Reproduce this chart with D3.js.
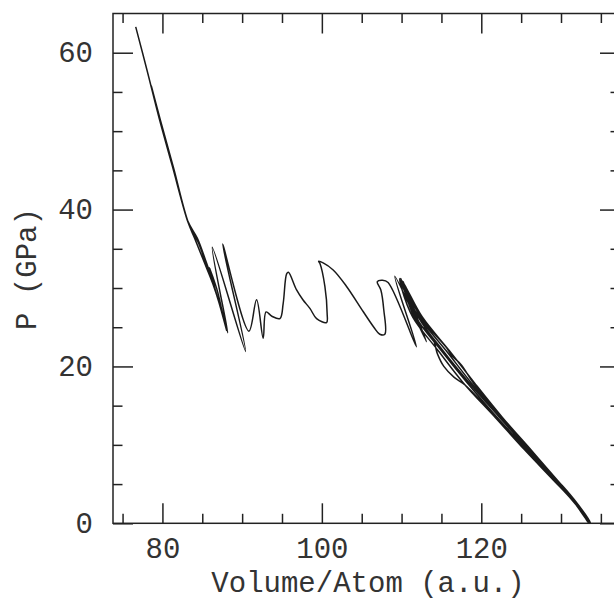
<!DOCTYPE html>
<html>
<head>
<meta charset="utf-8">
<script src="https://d3js.org/d3.v7.min.js"></script>
<style>
  body { margin: 0; background: #fff; }
  text { font-family: "Liberation Mono", "DejaVu Sans Mono", monospace; fill: #333; }
</style>
</head>
<body>
<div id="chart"></div>
<script>
// tick values
const xMajor = [80, 100, 120];
const xMinor = [75, 85, 90, 95, 105, 110, 115, 125, 130, 135];
const yMajor = [0, 20, 40, 60];
const yMinor = [5, 10, 15, 25, 30, 35, 45, 50, 55];

// trajectory pieces, [volume (a.u.), pressure (GPa)]
const upperBranch = [
  [76.65, 63.3], [78.06, 57.8], [79.6, 51.6], [81.2, 45.7], [83.2, 38.4],
  [84.1, 36.2], [85.2, 33.4], [86.3, 30.6], [87.2, 27.8], [88.05, 24.6]
];
const upperReturn = [
  [87.3, 27.4], [86.5, 30.2], [85.5, 33.0], [84.5, 35.8], [83.3, 38.2],
  [81.4, 45.3], [79.8, 51.2], [78.6, 55.8]
];
const upperSecond = [
  [79.9, 50.8], [81.5, 44.8], [83.2, 38.5], [84.4, 36.3], [85.6, 33.0],
  [86.6, 30.3], [85.9, 32.6], [86.9, 29.6], [87.5, 27.0], [88.2, 24.3]
];
const transition = [
  [86.25, 35.2], [90.44, 21.9], [87.55, 35.6], [90.85, 24.5], [91.81, 28.5],
  [92.64, 23.6], [93.0, 26.95], [93.73, 26.4], [94.74, 26.1], [95.15, 28.05],
  [95.58, 31.8], [95.8, 32.0], [96.83, 29.75], [97.62, 28.5], [98.5, 27.4],
  [99.34, 26.1], [100.59, 25.6], [100.66, 26.8], [100.38, 30.2], [99.75, 33.15],
  [99.6, 33.4], [100.16, 33.2], [101.42, 32.3], [103.1, 30.2], [105.18, 27.0],
  [106.52, 25.0], [107.27, 24.1], [107.9, 24.1], [107.77, 27.2], [107.4, 29.75],
  [106.95, 30.8], [107.6, 31.0], [108.31, 30.7], [111.87, 22.5], [109.15, 31.5],
  [113.13, 23.15], [109.78, 31.2]
];
// the dense band below ~110 a.u.
const strand1 = [
  [110.0, 30.0], [111.4, 26.3], [114.6, 22.0], [117.75, 17.9], [121.75, 13.5],
  [125.4, 9.4], [129.05, 5.5], [131.35, 3.0], [133.6, 0]
];
const strand2 = [
  [133.5, 0], [131.65, 3.0], [129.55, 5.5], [126.2, 9.4], [122.65, 13.5],
  [119.15, 17.9], [116.0, 22.0], [112.6, 26.3], [110.6, 30.0], [110.0, 31.0]
];
const strand3 = [
  [111.8, 26.3], [115.0, 22.0], [118.25, 17.9], [122.0, 13.5], [125.7, 9.4],
  [129.2, 5.5], [131.5, 3.0], [133.7, 0]
];
const strand4 = [
  [133.6, 0.2], [131.6, 3.0], [129.4, 5.5], [126.0, 9.4], [122.4, 13.5],
  [118.75, 17.9], [115.6, 22.0], [112.2, 26.3], [110.2, 30.0], [109.9, 31.2]
];
const strand5 = [
  [111.6, 26.3], [113.9, 23.6], [114.5, 21.6], [115.3, 20.0], [116.6, 18.6],
  [118.0, 17.6], [121.85, 13.5], [125.5, 9.4], [129.1, 5.5], [131.4, 3.0], [133.6, 0]
];
const strand6 = [
  [133.7, 0], [131.6, 3.1], [129.5, 5.5], [126.1, 9.4], [122.55, 13.5],
  [119.0, 17.9], [117.5, 20.2], [116.3, 21.4], [115.7, 22.3], [112.4, 26.3], [110.4, 30.3]
];
const strand7 = [
  [110.2, 30.8], [112.1, 26.3], [115.2, 22.0], [118.5, 17.9], [122.3, 13.5],
  [125.9, 9.4], [129.35, 5.5], [131.5, 3.0], [133.6, 0]
];

const width = 614, height = 607;
const mLeft = 113, mRight = 620, mTop = 13.5, mBottom = 523.3;

const svg = d3.select("#chart")
  .append("svg")
  .attr("width", width)
  .attr("height", height);

const x = d3.scaleLinear().domain([73.8, 137.4]).range([mLeft, mRight]);
const y = d3.scaleLinear().domain([0, 65]).range([mBottom, mTop]);

svg.append("clipPath").attr("id", "plot")
  .append("rect")
  .attr("x", mLeft).attr("y", mTop)
  .attr("width", mRight - mLeft).attr("height", mBottom - mTop);

// curve
const path = [].concat(upperBranch, upperReturn, upperSecond, transition,
  strand1, strand2, strand3, strand4, strand5, strand6, strand7);
const line = d3.line()
  .x(d => x(d[0]))
  .y(d => y(d[1]))
  .curve(d3.curveCatmullRom.alpha(0.5));

svg.append("path")
  .datum(path)
  .attr("clip-path", "url(#plot)")
  .attr("fill", "none")
  .attr("stroke", "#1a1a1a")
  .attr("stroke-width", 1.5)
  .attr("stroke-linejoin", "round")
  .attr("d", line);

// ticks on all four sides, pointing in
function ticks(axis, pos, values, size, labels) {
  const g = svg.append("g")
    .attr("transform", pos)
    .call(axis.tickValues(values).tickSize(-size).tickSizeOuter(0)
      .tickPadding(labels ? 20 : 0)
      .tickFormat(labels ? d3.format("d") : ""));
  g.select(".domain").remove();
  g.selectAll("line").attr("stroke", "#222").attr("stroke-width", 1.5);
  return g;
}

ticks(d3.axisBottom(x), `translate(0,${mBottom})`, xMinor, 9.5, false);
ticks(d3.axisTop(x), `translate(0,${mTop})`, xMinor, 9.5, false);
ticks(d3.axisTop(x), `translate(0,${mTop})`, xMajor, 20, false);
ticks(d3.axisRight(y), `translate(${mRight},0)`, yMinor, 9.5, false);
ticks(d3.axisRight(y), `translate(${mRight},0)`, yMajor, 20, false);
ticks(d3.axisLeft(y), `translate(${mLeft},0)`, yMinor, 9.5, false);

const xAxis = ticks(d3.axisBottom(x), `translate(0,${mBottom})`, xMajor, 20, true);
xAxis.selectAll("text")
  .attr("y", 34.7)
  .attr("dy", null)
  .attr("font-size", 29)
  .attr("font-family", null)
  .attr("fill", null);

const yAxis = ticks(d3.axisLeft(y), `translate(${mLeft},0)`, yMajor, 20, true);
yAxis.selectAll("text")
  .attr("dy", "0.3em")
  .attr("font-size", 29)
  .attr("font-family", null)
  .attr("fill", null);

// frame
svg.append("rect")
  .attr("x", mLeft).attr("y", mTop)
  .attr("width", mRight - mLeft).attr("height", mBottom - mTop)
  .attr("fill", "none")
  .attr("stroke", "#222")
  .attr("stroke-width", 1.5);

// axis titles
svg.append("text")
  .attr("x", 368)
  .attr("y", 592)
  .attr("text-anchor", "middle")
  .attr("font-size", 29)
  .text("Volume/Atom (a.u.)");

svg.append("text")
  .attr("transform", "translate(36,269) rotate(-90)")
  .attr("text-anchor", "middle")
  .attr("font-size", 29)
  .text("P (GPa)");
</script>
</body>
</html>
